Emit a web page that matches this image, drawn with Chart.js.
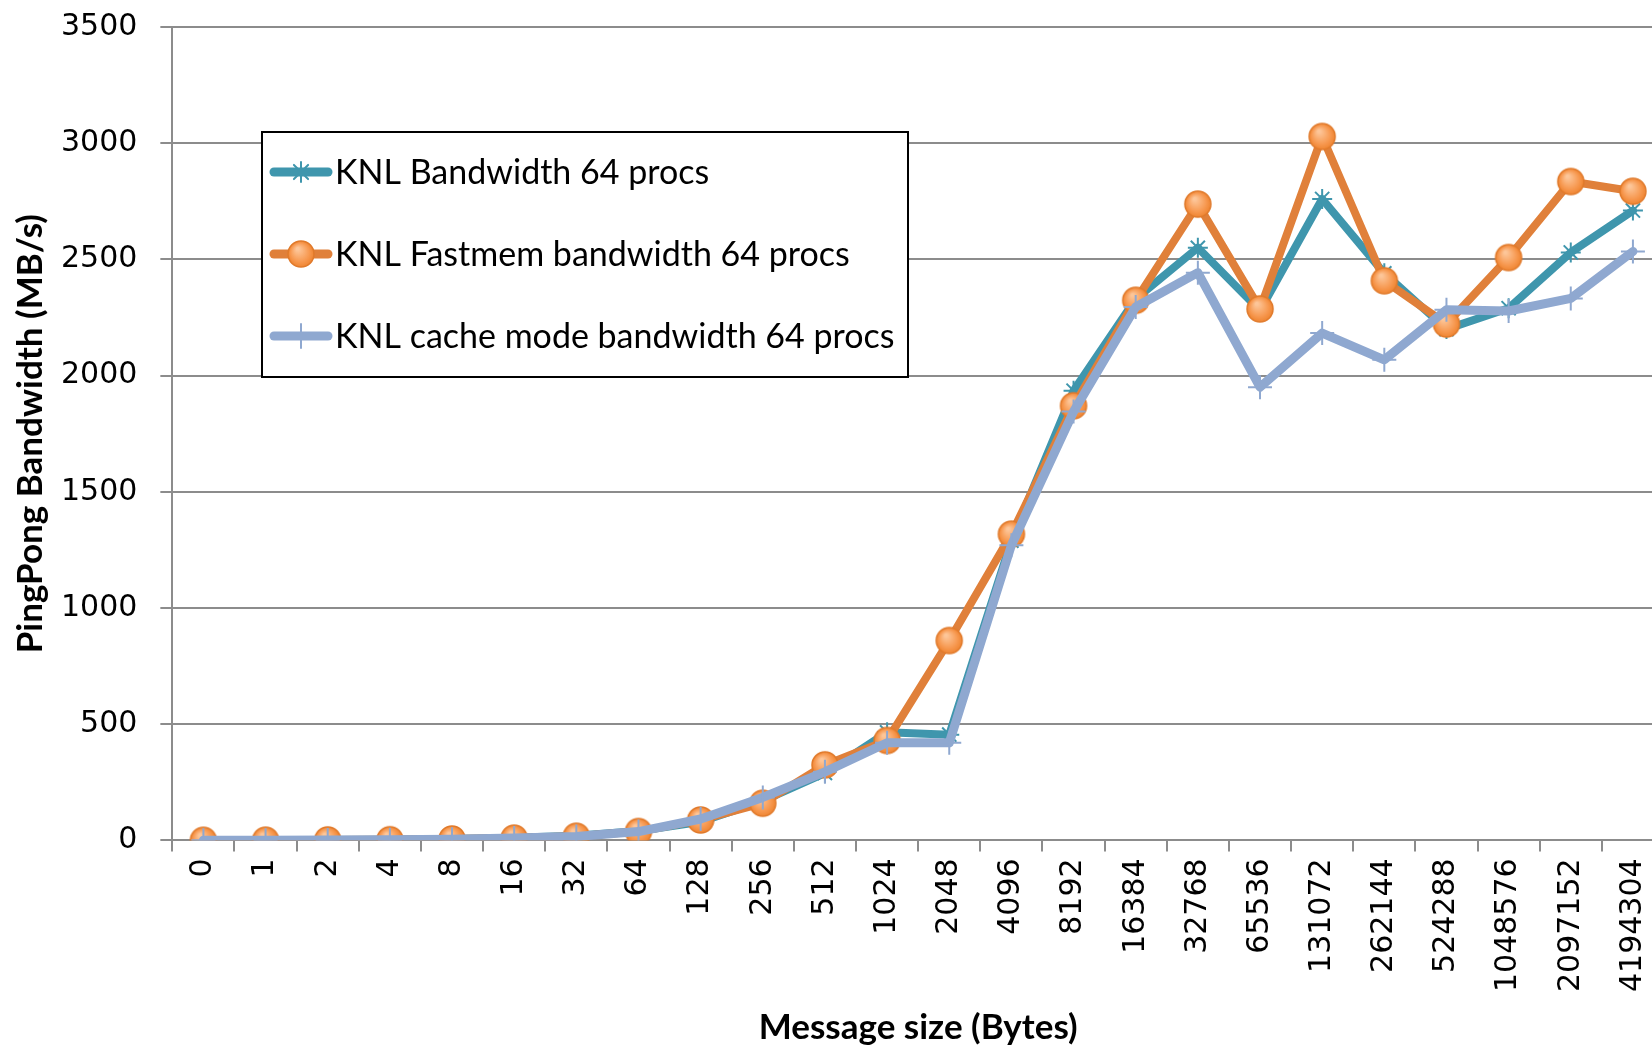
<!DOCTYPE html>
<html>
<head>
<meta charset="utf-8">
<script src="https://cdn.jsdelivr.net/npm/chart.js"></script>
<style>
  html, body { margin: 0; padding: 0; background: #fff; overflow: hidden; }
  #wrap { position: relative; width: 1700px; height: 1063px; margin-top: -14px; }
</style>
</head>
<body>
<div id="wrap"><canvas id="bwChart"></canvas></div>
<script>
// message sizes (bytes)
const labels = ['0', '1', '2', '4', '8', '16', '32', '64', '128', '256', '512', '1024', '2048',
  '4096', '8192', '16384', '32768', '65536', '131072', '262144', '524288', '1048576', '2097152', '4194304'];

// PingPong bandwidth in MB/s
const knlBandwidth = [0.5, 1, 2, 3, 6, 11, 20, 40, 80, 170, 290, 465, 455,
  1290, 1935, 2330, 2550, 2280, 2760, 2440, 2200, 2290, 2530, 2710];
const knlFastmem = [0.5, 1, 2, 3, 6, 10, 18, 38, 88, 160, 325, 430, 860,
  1318, 1870, 2324, 2738, 2287, 3029, 2408, 2222, 2508, 2835, 2793];
const knlCache = [0.5, 1, 2, 3, 5, 10, 17, 38, 92, 185, 295, 420, 420,
  1270, 1845, 2295, 2443, 1950, 2183, 2068, 2283, 2278, 2332, 2534];

const seriesNames = ['KNL Bandwidth 64 procs', 'KNL Fastmem bandwidth 64 procs', 'KNL cache mode bandwidth 64 procs'];
const yMax = 3500;
const yStep = 500;

const TEAL = '#3f96ad';
const ORANGE = '#e0803a';
const BLUE = '#8fa8d0';
const GRID = '#8c8c8c';

// orange ball marker
function makeBall(r) {
  const c = document.createElement('canvas');
  const s = r * 2 + 6;
  c.width = s; c.height = s;
  const g = c.getContext('2d');
  const cx = s / 2, cy = s / 2;
  const grad = g.createRadialGradient(cx - r * 0.25, cy - r * 0.4, r * 0.1, cx, cy, r);
  grad.addColorStop(0, '#fdc699');
  grad.addColorStop(0.7, '#f7984f');
  grad.addColorStop(1, '#ef8532');
  g.beginPath();
  g.arc(cx, cy, r, 0, Math.PI * 2);
  g.fillStyle = grad;
  g.fill();
  g.lineWidth = 1.5;
  g.strokeStyle = '#e07a2b';
  g.stroke();
  return c;
}
const ball = makeBall(13);

function drawMarker(ctx, kind, x, y) {
  ctx.save();
  if (kind === 'ball') {
    ctx.drawImage(ball, x - ball.width / 2, y - ball.height / 2);
  } else if (kind === 'star') {
    ctx.strokeStyle = TEAL; ctx.lineWidth = 2;
    const r = 10;
    ctx.beginPath();
    for (let a = 0; a < 4; a++) {
      const t = a * Math.PI / 4;
      ctx.moveTo(x - r * Math.sin(t), y - r * Math.cos(t));
      ctx.lineTo(x + r * Math.sin(t), y + r * Math.cos(t));
    }
    ctx.stroke();
  } else {
    ctx.strokeStyle = BLUE; ctx.lineWidth = 2;
    ctx.beginPath();
    ctx.moveTo(x, y - 12); ctx.lineTo(x, y + 12);
    ctx.stroke();
  }
  ctx.restore();
}

// legend box drawn inside the plot (canvas is shifted up 14px by the wrapper)
const boxLegend = {
  id: 'boxLegend',
  afterDraw(chart) {
    const ctx = chart.ctx;
    const bx = 262, by = 146, bw = 646, bh = 245;
    ctx.save();
    ctx.fillStyle = '#fff';
    ctx.fillRect(bx, by, bw, bh);
    ctx.strokeStyle = '#000';
    ctx.lineWidth = 2;
    ctx.strokeRect(bx, by, bw, bh);
    const colors = [TEAL, ORANGE, BLUE];
    const marks = ['star', 'ball', 'cross'];
    const rows = [186, 268, 350];
    for (let i = 0; i < 3; i++) {
      const y = rows[i];
      ctx.strokeStyle = colors[i];
      ctx.lineWidth = 9;
      ctx.lineCap = 'round';
      ctx.beginPath();
      ctx.moveTo(274, y);
      ctx.lineTo(328, y);
      ctx.stroke();
      drawMarker(ctx, marks[i], 301, y);
      ctx.fillStyle = '#000';
      ctx.font = '34px Lato';
      ctx.textBaseline = 'middle';
      ctx.fillText(seriesNames[i], 335, y + 1);
    }
    ctx.restore();
  }
};

const ctx = document.getElementById('bwChart').getContext('2d');
new Chart(ctx, {
  type: 'line',
  data: {
    labels: labels,
    datasets: [
      {
        label: seriesNames[0],
        data: knlBandwidth,
        borderColor: TEAL,
        backgroundColor: TEAL,
        borderWidth: 8,
        pointStyle: 'star',
        pointRadius: 10,
        pointBorderWidth: 2,
        pointBorderColor: TEAL,
        order: 3
      },
      {
        label: seriesNames[1],
        data: knlFastmem,
        borderColor: ORANGE,
        backgroundColor: ORANGE,
        borderWidth: 8,
        pointStyle: ball,
        pointRadius: 13,
        order: 2
      },
      {
        label: seriesNames[2],
        data: knlCache,
        borderColor: BLUE,
        backgroundColor: BLUE,
        borderWidth: 9,
        pointStyle: 'cross',
        pointRadius: 12,
        pointBorderWidth: 2,
        pointBorderColor: BLUE,
        order: 1
      }
    ]
  },
  options: {
    responsive: true,
    maintainAspectRatio: false,
    animation: false,
    elements: {
      line: { tension: 0, borderJoinStyle: 'round', borderCapStyle: 'round' }
    },
    layout: { padding: { left: 8, right: 36, top: 0, bottom: 0 } },
    plugins: {
      legend: { display: false },
      tooltip: { enabled: false }
    },
    scales: {
      x: {
        offset: true,
        grid: {
          offset: true,
          drawOnChartArea: false,
          drawTicks: true,
          tickLength: 11,
          color: GRID,
          lineWidth: 2
        },
        border: { color: GRID, width: 2 },
        ticks: {
          autoSkip: false,
          minRotation: 90,
          maxRotation: 90,
          padding: 7,
          color: '#000',
          font: { family: 'DejaVu Sans', size: 30 }
        },
        title: {
          display: true,
          text: 'Message size (Bytes)',
          color: '#000',
          font: { family: 'Lato', size: 35, weight: 'bold' },
          padding: { top: 8, bottom: 0 }
        }
      },
      y: {
        min: 0,
        max: yMax,
        ticks: {
          stepSize: yStep,
          padding: 23,
          color: '#000',
          font: { family: 'DejaVu Sans', size: 30 },
          callback: function (value) { return String(value); }
        },
        grid: {
          color: GRID,
          lineWidth: 2,
          tickLength: 12
        },
        border: { color: GRID, width: 2 },
        title: {
          display: true,
          text: 'PingPong Bandwidth (MB/s)',
          color: '#000',
          font: { family: 'Lato', size: 35, weight: 'bold' },
          padding: { top: 2, bottom: -14 }
        }
      }
    }
  },
  plugins: [boxLegend]
});
</script>
</body>
</html>
